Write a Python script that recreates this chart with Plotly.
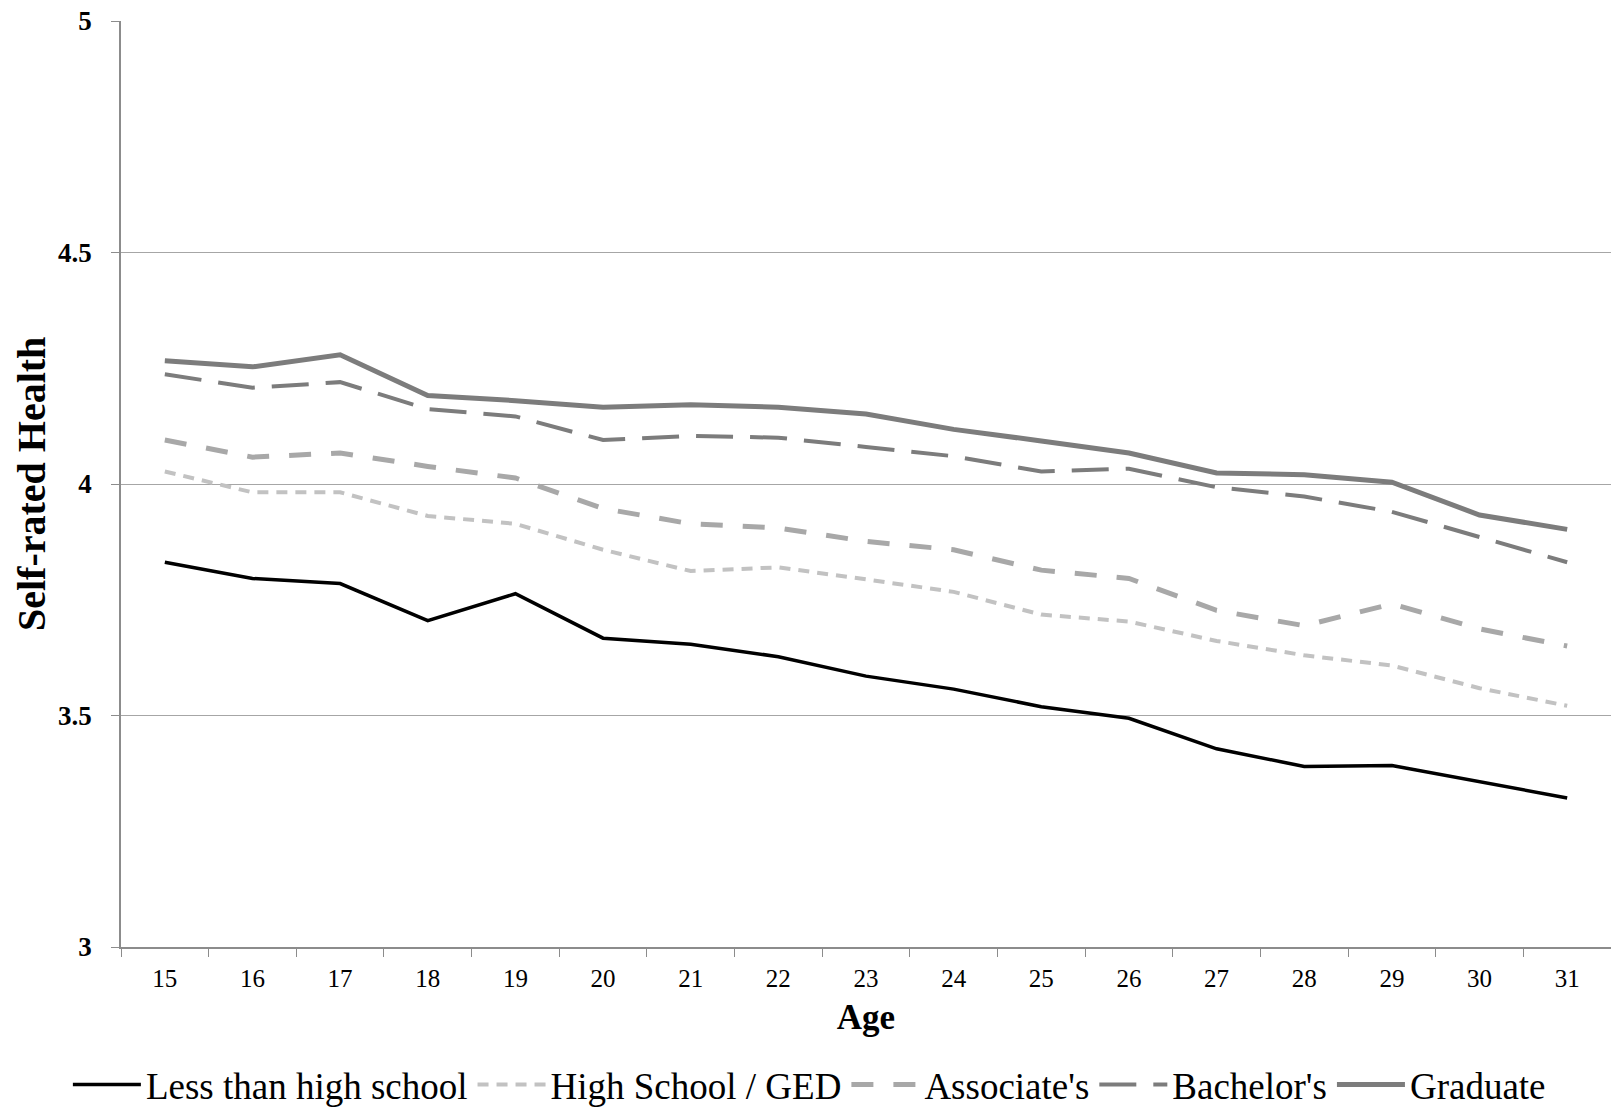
import plotly.graph_objects as go

ages = [15, 16, 17, 18, 19, 20, 21, 22, 23, 24, 25, 26, 27, 28, 29, 30, 31]
age_labels = [str(a) for a in ages]

less_than_hs = [3.831, 3.796, 3.785, 3.705, 3.763, 3.667, 3.654, 3.627, 3.585, 3.557,
                3.519, 3.494, 3.428, 3.390, 3.392, 3.357, 3.322]
high_school_ged = [4.027, 3.982, 3.982, 3.931, 3.914, 3.858, 3.812, 3.820, 3.794, 3.767,
                   3.718, 3.703, 3.661, 3.630, 3.608, 3.559, 3.521]
associates = [4.095, 4.058, 4.067, 4.038, 4.013, 3.947, 3.914, 3.905, 3.876, 3.858,
              3.814, 3.796, 3.727, 3.694, 3.741, 3.687, 3.650]
bachelors = [4.237, 4.208, 4.220, 4.162, 4.146, 4.095, 4.104, 4.100, 4.080, 4.060,
             4.027, 4.033, 3.993, 3.973, 3.940, 3.885, 3.831]
graduate = [4.266, 4.253, 4.279, 4.191, 4.180, 4.166, 4.171, 4.166, 4.151, 4.118,
            4.093, 4.067, 4.024, 4.020, 4.004, 3.933, 3.902]

y_ticks = [3, 3.5, 4, 4.5, 5]
y_tick_text = ["3", "3.5", "4", "4.5", "5"]

series = [
    ("Less than high school", less_than_hs, "#000000", 3.5, "solid"),
    ("High School / GED", high_school_ged, "#c2c2c2", 4, "11px,8px"),
    ("Associate's", associates, "#a8a8a8", 5, "22px,20px"),
    ("Bachelor's", bachelors, "#7c7c7c", 4, "37px,17px"),
    ("Graduate", graduate, "#7c7c7c", 5, "solid"),
]

fig = go.Figure()
for name, vals, color, width, dash in series:
    fig.add_trace(go.Scatter(
        x=age_labels, y=vals, name=name, mode="lines",
        line=dict(color=color, width=width, dash=dash),
    ))

fig.update_layout(
    width=1611, height=1107,
    margin=dict(l=121, r=0, t=21, b=160, autoexpand=False),
    paper_bgcolor="white", plot_bgcolor="white",
    font=dict(family="Liberation Serif", color="black"),
    showlegend=True,
    legend=dict(
        orientation="h", xref="paper", yref="paper",
        x=0.462, xanchor="center", y=-0.149, yanchor="middle",
        font=dict(family="Liberation Serif", size=37, color="black"),
        itemwidth=68, tracegroupgap=0,
        bgcolor="rgba(0,0,0,0)",
    ),
    xaxis=dict(
        type="category",
        range=[-0.5, 16.5],
        automargin=False,
        showgrid=False,
        showline=True, linecolor="#8c8c8c", linewidth=1.5,
        ticks="outside", tickson="boundaries", ticklen=8, tickcolor="#8c8c8c",
        tickfont=dict(family="Liberation Serif", size=25, color="black"),
        ticklabelstandoff=8,
        title=dict(text="<b>Age</b>", font=dict(family="Liberation Serif", size=35), standoff=14),
    ),
    yaxis=dict(
        range=[3, 5],
        automargin=False,
        tickvals=y_ticks, ticktext=y_tick_text,
        showgrid=True, gridcolor="#a6a6a6", gridwidth=1,
        showline=True, linecolor="#8c8c8c", linewidth=1.5,
        ticks="outside", ticklen=8, tickcolor="#8c8c8c",
        tickfont=dict(family="Liberation Serif", size=27, color="black", weight="bold"),
        ticklabelstandoff=14,
        zeroline=False,
    ),
    annotations=[dict(
        text="<b>Self-rated Health</b>", textangle=-90,
        xref="paper", yref="paper", x=-0.0604, y=0.5,
        xanchor="center", yanchor="middle", showarrow=False,
        font=dict(family="Liberation Serif", size=40, color="black"),
    )],
)

fig.write_html(
    "out.html",
    config={"displayModeBar": False},
    post_script="document.body.style.margin='0px';document.body.style.overflow='hidden';",
)
